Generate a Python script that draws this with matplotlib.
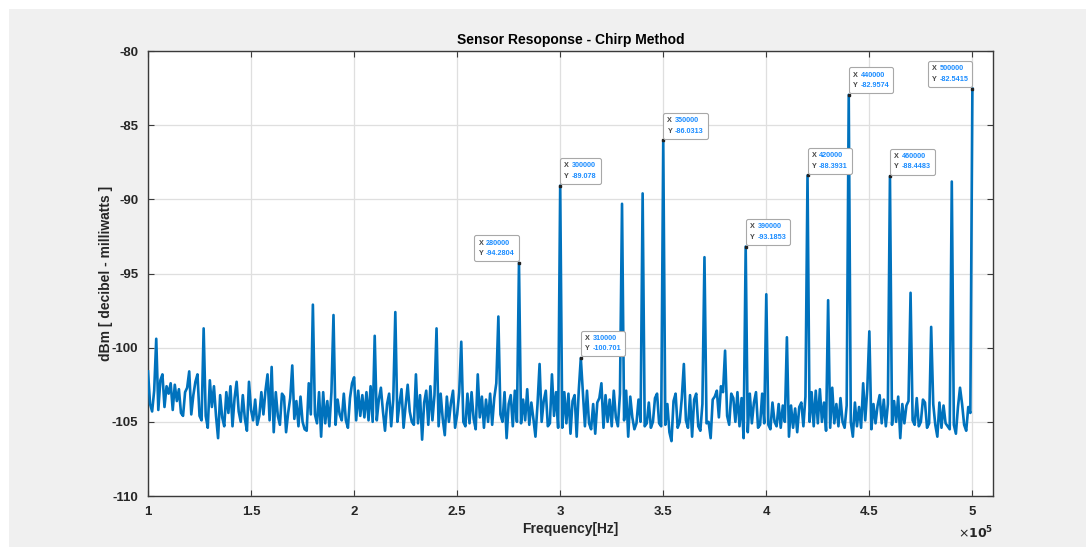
import numpy as np
import matplotlib
matplotlib.use('Agg')
import matplotlib.pyplot as plt
from matplotlib.patches import Rectangle
from matplotlib.offsetbox import TextArea, HPacker, VPacker, AnnotationBbox

# ---------------- data ----------------
freq_start_hz = 100000
freq_step_hz = 1000

power_dbm = [
    -101.6, -103.8, -104.3, -102.9, -99.4, -104.2, -102.2, -101.8, -104.0, -102.6,
    -103.1, -102.4, -104.2, -102.5, -103.6, -102.8, -104.4, -104.6, -103.0, -102.7,
    -101.6, -104.5, -103.2, -102.3, -101.8, -104.6, -104.9, -98.7, -104.6, -105.4,
    -102.2, -104.0, -102.6, -104.6, -106.1, -103.2, -104.7, -105.3, -103.0, -104.4,
    -102.6, -105.3, -103.4, -102.3, -104.3, -105.0, -103.2, -104.8, -105.6, -102.3,
    -104.2, -104.9, -103.5, -105.2, -104.6, -103.0, -104.5, -102.9, -101.8, -104.9,
    -101.3, -105.7, -103.0, -104.6, -105.2, -103.1, -103.3, -105.7, -104.4, -103.4,
    -101.2, -104.8, -103.6, -105.3, -103.3, -105.0, -105.5, -105.6, -102.4, -104.5,
    -97.1, -104.5, -105.1, -103.0, -106.0, -103.0, -105.1, -103.6, -105.3, -103.0,
    -97.8, -105.2, -103.5, -104.5, -104.9, -103.1, -104.9, -105.4, -103.4, -102.4,
    -102.0, -104.9, -102.9, -104.6, -103.2, -104.7, -103.0, -104.9, -102.6, -105.0,
    -99.2, -104.9, -103.5, -102.7, -104.3, -105.6, -103.8, -103.1, -105.3, -103.5,
    -97.6, -105.0, -103.8, -102.8, -105.4, -103.9, -102.5, -104.3, -105.0, -105.2,
    -101.8, -105.1, -103.2, -106.2, -103.7, -102.9, -105.2, -102.6, -104.9, -103.2,
    -98.7, -105.3, -103.1, -104.8, -105.9, -103.3, -105.0, -103.7, -102.9, -105.4,
    -104.5, -103.0, -99.6, -105.0, -105.3, -103.1, -105.1, -103.0, -104.8, -105.5,
    -101.8, -104.7, -103.3, -105.4, -103.5, -105.0, -103.1, -105.2, -103.4, -102.4,
    -97.9, -104.5, -105.0, -103.0, -106.1, -103.8, -103.2, -105.3, -102.9, -105.0,
    -94.2804, -105.1, -103.5, -104.9, -102.8, -105.2, -103.7, -104.8, -106.0, -103.8,
    -101.1, -105.0, -103.6, -102.9, -105.3, -105.1, -101.8, -104.6, -103.0, -105.4,
    -89.078, -105.4, -103.0, -105.1, -103.1, -105.8, -103.6, -103.2, -106.0, -102.9,
    -100.701, -103.0, -105.3, -102.9, -105.1, -105.5, -103.8, -105.8, -103.7, -103.4,
    -102.4, -105.4, -103.2, -105.0, -103.5, -105.3, -102.9, -104.7, -105.3, -103.1,
    -90.3, -104.9, -102.9, -106.0, -103.3, -104.7, -105.5, -105.1, -103.5, -105.0,
    -89.6, -105.3, -105.1, -103.7, -105.4, -105.0, -103.4, -103.1, -105.1, -105.3,
    -86.0313, -105.2, -103.8, -105.7, -106.3, -103.6, -103.1, -105.4, -105.0, -103.4,
    -101.1, -104.9, -105.4, -103.2, -106.0, -103.5, -103.1, -105.3, -105.6, -103.8,
    -93.9, -105.1, -105.0, -106.1, -103.5, -103.3, -102.9, -104.7, -102.6, -103.0,
    -100.2, -104.6, -105.2, -103.1, -103.4, -105.0, -103.0, -105.3, -103.4, -106.1,
    -93.1853, -105.7, -103.1, -105.1, -103.7, -103.0, -105.4, -105.2, -103.1, -105.1,
    -96.4, -105.2, -105.5, -103.7, -105.0, -105.3, -103.8, -105.4, -103.9, -105.0,
    -99.3, -106.0, -103.9, -105.4, -104.1, -105.7, -104.0, -103.7, -105.3, -103.3,
    -88.3931, -105.0, -103.0, -105.3, -102.9, -105.1, -102.8, -105.0, -103.7, -105.6,
    -96.8, -105.4, -102.7, -105.1, -103.8, -105.3, -103.4, -105.0, -105.4, -103.9,
    -82.9574, -105.0, -106.0, -103.7, -105.3, -104.0, -105.4, -102.4, -104.9, -102.8,
    -98.9, -105.5, -103.8, -105.1, -103.9, -103.2, -105.1, -103.5, -105.3, -103.8,
    -88.4483, -105.2, -103.6, -105.0, -103.3, -106.1, -103.8, -105.1, -103.9, -103.6,
    -96.3, -104.9, -105.2, -103.4, -105.3, -105.0, -103.5, -103.7, -105.4, -105.1,
    -98.6, -103.8, -105.2, -106.0, -103.7, -105.4, -103.9, -105.1, -105.3, -105.5,
    -88.8, -105.2, -105.8, -104.0, -102.7, -103.8, -105.2, -105.6, -104.0, -104.4,
    -82.5415,
]

tip_freq_hz = [280000, 300000, 310000, 350000, 390000, 420000, 440000, 460000, 500000]
tip_power_text = ['-94.2804', '-89.078', '-100.701', '-86.0313', '-93.1853',
                  '-88.3931', '-82.9574', '-88.4483', '-82.5415']
tip_side = ['left', 'right', 'right', 'right', 'right', 'right', 'right', 'right', 'left']

x_ticks_hz = [100000, 150000, 200000, 250000, 300000, 350000, 400000, 450000, 500000]
x_tick_labels = ['1', '1.5', '2', '2.5', '3', '3.5', '4', '4.5', '5']
y_ticks = [-110, -105, -100, -95, -90, -85, -80]

title_text = 'Sensor Resoponse - Chirp Method'
x_label = 'Frequency[Hz]'
y_label = 'dBm [ decibel - milliwatts ]'

# ---------------- figure ----------------
W, H = 1086, 547
fig = plt.figure(figsize=(W / 100, H / 100), dpi=100, facecolor='white')
fig.patches.append(Rectangle((9 / W, 0), 1 - 9 / W, 1 - 9 / H, transform=fig.transFigure,
                             facecolor='#f0f0f0', edgecolor='none', zorder=-10))

ax = fig.add_axes([148 / W, 1 - 496 / H, (993 - 148) / W, (496 - 51) / H])
ax.set_facecolor('white')

freq_hz = freq_start_hz + freq_step_hz * np.arange(len(power_dbm))
power = np.array(power_dbm)
ax.plot(freq_hz, power, color='#0072BD', lw=1.9, zorder=3)

ax.set_xlim(100000, 510000)
ax.set_ylim(-110, -80)
ax.set_xticks(x_ticks_hz)
ax.set_xticklabels(x_tick_labels)
ax.set_yticks(y_ticks)
ax.set_yticklabels([str(v) for v in y_ticks])

dark = '#262626'
ax.grid(True, color='#dfdfdf', lw=0.9, zorder=0)
ax.set_axisbelow(True)
for s in ax.spines.values():
    s.set_color('#3a3a3a')
    s.set_linewidth(1.0)
ax.tick_params(direction='in', top=True, right=True, length=4, width=0.8,
               color='#3a3a3a', labelcolor=dark, labelsize=9.5, pad=7)
for lab in ax.get_xticklabels() + ax.get_yticklabels():
    lab.set_fontweight('bold')
    lab.set_family(['Liberation Sans', 'DejaVu Sans'])

ax.set_title(title_text, fontsize=10, fontweight='bold', color='black', pad=5,
             family=['Liberation Sans Narrow', 'Liberation Sans', 'DejaVu Sans'])
ax.set_xlabel(x_label, fontsize=10, fontweight='bold', color=dark, labelpad=3,
              family=['Liberation Sans', 'DejaVu Sans'])
ax.set_ylabel(y_label, fontsize=10, fontweight='bold', color=dark, labelpad=-1,
              family=['Liberation Sans', 'DejaVu Sans'])
ax.text(1.0, -0.083, r'$\times\mathbf{10^{5}}$', transform=ax.transAxes, ha='right', va='center',
        fontsize=9, color=dark)

# ---------------- data tips ----------------
fam = ['Liberation Sans', 'DejaVu Sans']
for f, ptxt, side in zip(tip_freq_hz, tip_power_text, tip_side):
    idx = int(round((f - freq_start_hz) / freq_step_hz))
    yv = power[idx]
    ax.plot([f], [yv], marker='s', ms=1.6, color='#222222', zorder=5)
    tp_lbl = dict(color='#444444', fontsize=5.2, fontweight='bold', family=fam)
    tp_val = dict(color='#1a8cff', fontsize=5.2, fontweight='bold', family=fam)
    row1 = HPacker(children=[TextArea('X', textprops=tp_lbl), TextArea(str(f), textprops=tp_val)],
                   pad=0, sep=2)
    row2 = HPacker(children=[TextArea('Y', textprops=tp_lbl), TextArea(ptxt, textprops=tp_val)],
                   pad=0, sep=2)
    box = VPacker(children=[row1, row2], pad=0, sep=2.5, align='left')
    if side == 'right':
        align, off = (0.0, 0.0), (3.0, 4.2)
    else:
        align, off = (1.0, 0.0), (-3.0, 4.2)
    ab = AnnotationBbox(box, (f, yv), xybox=off, xycoords='data', boxcoords='offset points',
                        box_alignment=align, frameon=True,
                        bboxprops=dict(boxstyle='round,pad=0.3,rounding_size=0.15', fc='white',
                                       ec='#a8a8a8', lw=0.8), zorder=6)
    ax.add_artist(ab)

fig.savefig('out.png', dpi=100, facecolor=fig.get_facecolor())
